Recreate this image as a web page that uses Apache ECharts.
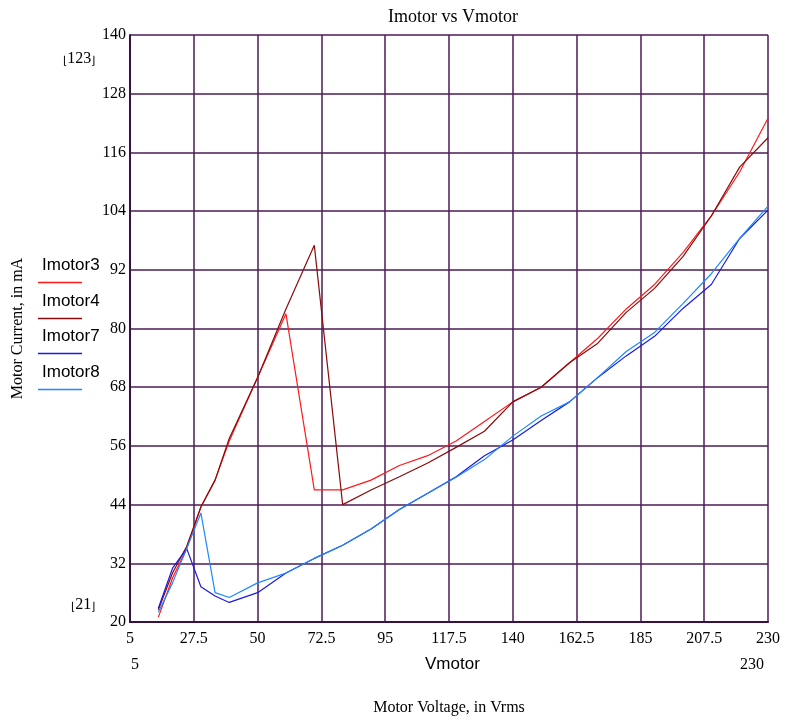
<!DOCTYPE html>
<html>
<head>
<meta charset="utf-8">
<script src="https://cdn.jsdelivr.net/npm/echarts@6/dist/echarts.min.js"></script>
<style>
html,body{margin:0;padding:0;background:#fff;}
#chart{width:785px;height:722px;}
</style>
</head>
<body>
<div id="chart"></div>
<script>
// ---- data ----
const vmotor = [15,20,25,30,35,40,50,60,70,80,90,100,110,120,130,140,150,160,170,180,190,200,210,220,230];
const imotor3 = [21,29,35,43.5,49,57,70,83,47,47,49,52,54,57,61,65,68,73,78,84,89,95.5,103,112,123];
const imotor4 = [22.5,30,35.5,43.5,49,57.5,70,84,97,44,47,49.7,52.5,55.7,59,65,68,73,77,83.3,88.2,94.7,103,113,119];
const imotor7 = [22.8,31,35,27.2,25.3,24,26,30,33,35.7,39,43,46.3,49.7,54,57.2,61.2,65,70,74.4,78.4,84.1,89,98.4,104.2];
const imotor8 = [22,28,35,42.3,26,25,28,30,33,35.7,39,43,46.3,49.6,53.2,58,62.1,65,70,75.3,79.2,85.1,91.2,98.4,105];
const seriesNames = ['Imotor3','Imotor4','Imotor7','Imotor8'];
const seriesColors = ['#ff1a1a','#8b0a0a','#1a1ae6','#1e88ff'];
const xMin = 5, xMax = 230, xStep = 22.5;
const yMin = 20, yMax = 140, yStep = 12;
const yDataMin = '21', yDataMax = '123';

const allY = [imotor3, imotor4, imotor7, imotor8];
// axes are offset so that tick counting starts at a multiple of the interval
const fmt = (v) => String(Math.round(v * 100) / 100);

const chart = echarts.init(document.getElementById('chart'), null, {renderer:'canvas'});
const gridCol = '#4d1b57';
const serif = 'Liberation Serif';
const sans = 'Liberation Sans';

const graphics = [];
seriesNames.forEach((n, i) => {
  const ly = Math.round(282 + i*35.5) + 0.5;
  graphics.push({type:'text', left:42, top:257 + i*35.5,
    style:{text:n, font:'17px "' + sans + '"', fill:'#000'}});
  graphics.push({type:'line', shape:{x1:38, y1:ly, x2:82, y2:ly},
    style:{stroke:seriesColors[i], lineWidth:1.5}});
});
const bracketText = (s) => ({
  text:'{b|⌊}' + s + '{b|⌋}', font:'16px "' + serif + '"', fill:'#000',
  rich:{b:{fontSize:11, fontFamily:'DejaVu Sans', verticalAlign:'bottom'}}
});
graphics.push({type:'text', left:63, top:51, style:bracketText(yDataMax)});
graphics.push({type:'text', left:71, top:597, style:bracketText(yDataMin)});
graphics.push({type:'text', left:131, top:657, style:{text:String(xMin), font:'16px "' + serif + '"', fill:'#000'}});
graphics.push({type:'text', left:740, top:657, style:{text:String(xMax), font:'16px "' + serif + '"', fill:'#000'}});
graphics.push({type:'text', left:425, top:656, style:{text:'Vmotor', font:'17px "' + sans + '"', fill:'#000'}});

chart.setOption({
  animation:false,
  backgroundColor:'#fff',
  title:{text:'Imotor vs Vmotor', left:448, top:3, textAlign:'center',
    textStyle:{fontFamily:serif, fontSize:18, fontWeight:'normal', color:'#000'}},
  grid:{left:130, right:17, top:35, bottom:100, containLabel:false},
  xAxis:{type:'value', min:0, max:xMax - xMin, interval:xStep,
    name:'Motor Voltage, in Vrms', nameLocation:'middle', nameGap:78,
    nameTextStyle:{fontFamily:serif, fontSize:16, color:'#000'},
    axisLine:{show:true, onZero:false, lineStyle:{color:'#3a1042', width:2}},
    axisTick:{show:false},
    axisLabel:{formatter:(v)=>fmt(v + xMin), margin:9, fontFamily:serif, fontSize:16, color:'#000'},
    splitLine:{show:true, lineStyle:{color:gridCol, width:1.5}}},
  yAxis:{type:'value', min:0, max:yMax - yMin, interval:yStep,
    name:'Motor Current, in mA', nameLocation:'middle', nameGap:104, nameRotate:90,
    nameTextStyle:{fontFamily:serif, fontSize:16, color:'#000'},
    axisLine:{show:true, onZero:false, lineStyle:{color:'#3a1042', width:2}},
    axisTick:{show:false},
    axisLabel:{formatter:(v)=>fmt(v + yMin), margin:4, fontFamily:serif, fontSize:16, color:'#000'},
    splitLine:{show:true, lineStyle:{color:gridCol, width:1.5}}},
  series: seriesNames.map((n, i) => ({
    name:n, type:'line', showSymbol:false, symbol:'none',
    lineStyle:{color:seriesColors[i], width:1.2},
    data: vmotor.map((v, k) => [v - xMin, allY[i][k] - yMin])
  })),
  graphic: graphics
});
</script>
</body>
</html>
